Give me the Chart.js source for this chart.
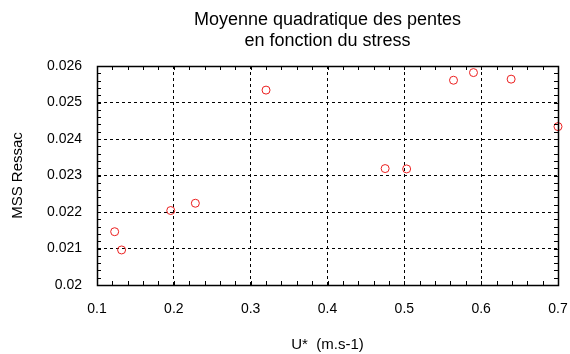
<!DOCTYPE html>
<html>
<head>
<meta charset="utf-8">
<script src="https://cdn.jsdelivr.net/npm/chart.js@4/dist/chart.umd.min.js"></script>
<style>
  html, body { margin: 0; padding: 0; background: #ffffff; }
  #wrap { width: 570px; height: 354px; }
</style>
</head>
<body>
<div id="wrap"><canvas id="c" width="570" height="354"></canvas></div>
<script>
// Friction velocity U* (m/s) and mean square slope measured by Ressac
const uStar = [0.123, 0.132, 0.196, 0.228, 0.320, 0.475, 0.503, 0.564, 0.590, 0.639, 0.700];
const mssRessac = [0.02146, 0.02096, 0.02204, 0.02224, 0.02534, 0.02319, 0.02318, 0.02561, 0.02582, 0.02564, 0.02434];

const xTickLabels = ['0.1', '0.2', '0.3', '0.4', '0.5', '0.6', '0.7'];
const yTickLabels = ['0.02', '0.021', '0.022', '0.023', '0.024', '0.025', '0.026'];

const titleLines = ['Moyenne quadratique des pentes', 'en fonction du stress'];
const xTitle = 'U*  (m.s-1)';
const yTitle = 'MSS Ressac';

const FONT = '"Liberation Sans", Arial, Helvetica, sans-serif';

// Centre the title over the plot area instead of the whole canvas
const titleOverPlot = {
  id: 'titleOverPlot',
  afterLayout(chart) {
    const t = chart.titleBlock;
    const a = chart.chartArea;
    if (t && a) { t.left = a.left; t.right = a.right; t.width = a.right - a.left; }
  }
};

// Frame around the plot area plus small inward ticks on all four sides
const frameTicks = {
  id: 'frameTicks',
  afterDraw(chart) {
    const { ctx, chartArea: a, scales: { x, y } } = chart;
    ctx.save();
    ctx.strokeStyle = '#000';
    ctx.lineWidth = 1;
    ctx.beginPath();
    const len = 4;
    for (let i = 0; i <= 30; i++) {
      const v = x.min + i * (x.max - x.min) / 30;
      const px = Math.round(x.getPixelForValue(v)) + 0.5;
      ctx.moveTo(px, a.bottom); ctx.lineTo(px, a.bottom - len);
      ctx.moveTo(px, a.top); ctx.lineTo(px, a.top + len);
    }
    for (let i = 0; i <= 30; i++) {
      const v = y.min + i * (y.max - y.min) / 30;
      const py = Math.round(y.getPixelForValue(v)) + 0.5;
      ctx.moveTo(a.left, py); ctx.lineTo(a.left + len, py);
      ctx.moveTo(a.right, py); ctx.lineTo(a.right - len, py);
    }
    ctx.stroke();
    ctx.lineWidth = 1.5;
    ctx.strokeRect(Math.round(a.left) + 0.5, Math.round(a.top) + 0.5,
      Math.round(a.right - a.left), Math.round(a.bottom - a.top));
    ctx.restore();
  }
};

new Chart(document.getElementById('c'), {
  type: 'scatter',
  data: {
    datasets: [{
      data: uStar.map((u, i) => ({ x: u, y: mssRessac[i] })),
      pointStyle: 'circle',
      pointRadius: 4,
      pointHoverRadius: 4,
      pointBorderWidth: 1,
      borderColor: 'rgb(235,30,30)',
      backgroundColor: 'rgba(0,0,0,0)',
      clip: false
    }]
  },
  options: {
    responsive: false,
    animation: false,
    events: [],
    layout: { padding: { left: 0, right: 12, top: 0, bottom: 0 } },
    plugins: {
      legend: { display: false },
      tooltip: { enabled: false },
      title: {
        display: true,
        text: titleLines,
        color: '#000',
        font: { family: FONT, size: 18, weight: 'normal', lineHeight: 1.167 },
        padding: { top: 9.5, bottom: 14.5 }
      }
    },
    scales: {
      x: {
        type: 'linear',
        min: 0.1,
        max: 0.7,
        afterFit(s) { s.height = 69; s.paddingLeft = 0; s.paddingRight = 0; },
        ticks: {
          stepSize: 0.1,
          color: '#000',
          padding: 16,
          maxRotation: 0,
          font: { family: FONT, size: 14 },
          callback: (v) => xTickLabels[Math.round((v - 0.1) * 10)]
        },
        grid: {
          color: '#000',
          lineWidth: 1,
          drawTicks: false
        },
        border: { display: true, color: '#000', dash: [3, 3] },
        title: {
          display: true,
          text: xTitle,
          color: '#000',
          font: { family: FONT, size: 15 },
          padding: { top: 0, bottom: 0 }
        }
      },
      y: {
        type: 'linear',
        min: 0.02,
        max: 0.026,
        afterFit(s) { s.width = 97; s.paddingTop = 0; s.paddingBottom = 0; },
        ticks: {
          stepSize: 0.001,
          color: '#000',
          padding: 15,
          font: { family: FONT, size: 14 },
          callback: (v) => yTickLabels[Math.round((v - 0.02) * 1000)]
        },
        grid: {
          color: '#000',
          lineWidth: 1,
          drawTicks: false
        },
        border: { display: true, color: '#000', dash: [3, 3] },
        title: {
          display: true,
          text: yTitle,
          color: '#000',
          font: { family: FONT, size: 15 },
          padding: { top: 9, bottom: 0 }
        }
      }
    }
  },
  plugins: [titleOverPlot, frameTicks]
});
</script>
</body>
</html>
